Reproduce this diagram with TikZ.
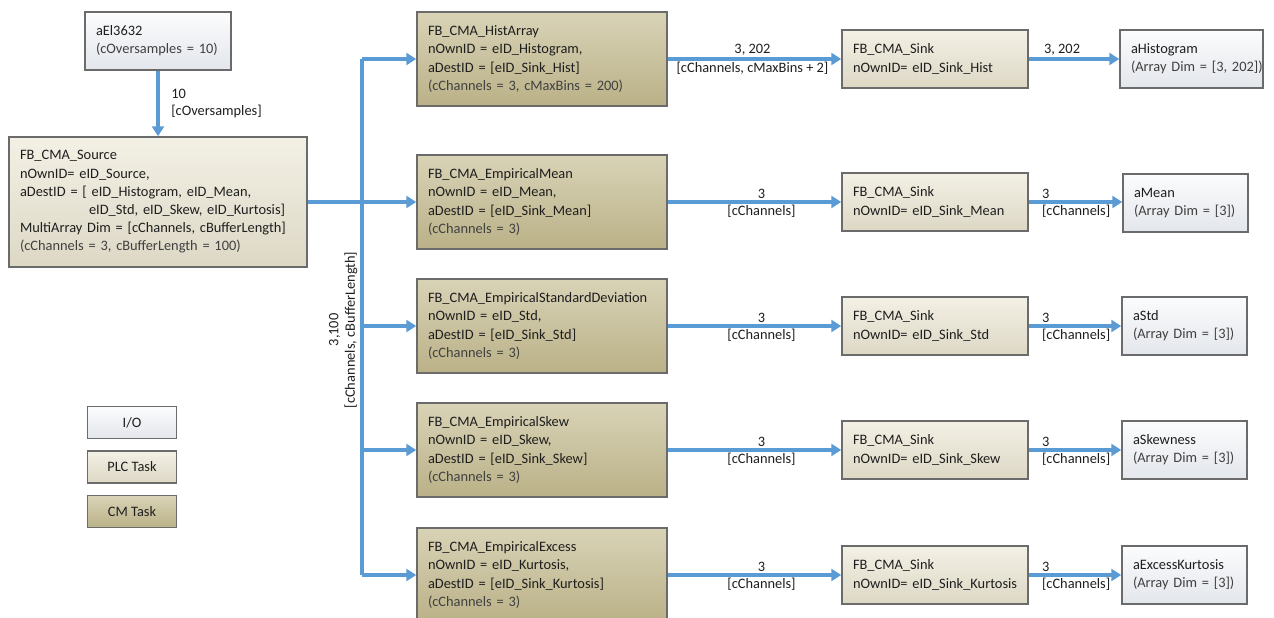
\documentclass[tikz,border=0pt]{standalone}
\usepackage{fontspec}
\setmainfont{Carlito}
\usetikzlibrary{arrows.meta}
\definecolor{txt}{HTML}{1E1E1E}
\definecolor{txtl}{HTML}{404040}
\definecolor{edge}{HTML}{6B6B6B}
\definecolor{flow}{HTML}{5B9BD5}
\definecolor{iotop}{HTML}{FBFCFD}
\definecolor{iobot}{HTML}{E3E6EB}
\definecolor{plctop}{HTML}{F3F0E5}
\definecolor{plcbot}{HTML}{DDD8C5}
\definecolor{cmtop}{HTML}{D9D3B7}
\definecolor{cmbot}{HTML}{BAB187}
\newcommand{\lt}[1]{\textcolor{txtl}{#1}}
\begin{document}
\begin{tikzpicture}[x=1pt,y=-1pt,
  font=\fontsize{14.4}{18.2}\selectfont, text=txt,
  box/.style={draw=edge, line width=1.5pt, inner xsep=11pt, inner ysep=0pt, align=left},
  iobox/.style={box, top color=iotop, bottom color=iobot},
  plcbox/.style={box, top color=plctop, bottom color=plcbot},
  cmbox/.style={box, top color=cmtop, bottom color=cmbot},
  cmsize/.style={minimum width=250pt, minimum height=94pt, text width=228pt},
  sinksize/.style={minimum width=186pt, minimum height=58pt, text width=164pt},
  outsize/.style={minimum width=125pt, minimum height=58pt, text width=103pt},
  legsize/.style={minimum width=89pt, minimum height=32pt, inner xsep=0pt, align=center},
  flowline/.style={draw=flow, line width=3.5pt},
  arr/.style={flowline, -{Triangle[length=10pt, width=12pt]}},
  lab/.style={inner sep=1.5pt, font=\fontsize{14.4}{16.5}\selectfont},
]
\useasboundingbox (0,0) rectangle (1274,618);
\clip (0,0) rectangle (1274,618);

% I/O source
\node[iobox, minimum width=146pt, minimum height=58pt, text width=124pt] (io) at (158,41)
  {aEl3632\\\lt{(cOversamples = 10)}};
% PLC source
\node[plcbox, minimum width=298pt, minimum height=130pt, text width=276pt] (src) at (158,202)
  {FB\_CMA\_Source\\
   nOwnID= eID\_Source,\\
   aDestID = [ eID\_Histogram, eID\_Mean,\\
   \hspace*{69pt}eID\_Std, eID\_Skew, eID\_Kurtosis]\\
   MultiArray Dim = [cChannels, cBufferLength]\\
   \lt{(cChannels = 3, cBufferLength = 100)}};

% CM task boxes
\node[cmbox, cmsize] (hist) at (542,59)
  {FB\_CMA\_HistArray\\nOwnID = eID\_Histogram,\\aDestID = [eID\_Sink\_Hist]\\\lt{(cChannels = 3, cMaxBins = 200)}};
\node[cmbox, cmsize] (mean) at (542,202)
  {FB\_CMA\_EmpiricalMean\\nOwnID = eID\_Mean,\\aDestID = [eID\_Sink\_Mean]\\\lt{(cChannels = 3)}};
\node[cmbox, cmsize] (std) at (542,326)
  {FB\_CMA\_EmpiricalStandardDeviation\\nOwnID = eID\_Std,\\aDestID = [eID\_Sink\_Std]\\\lt{(cChannels = 3)}};
\node[cmbox, cmsize] (skew) at (542,450)
  {FB\_CMA\_EmpiricalSkew\\nOwnID = eID\_Skew,\\aDestID = [eID\_Sink\_Skew]\\\lt{(cChannels = 3)}};
\node[cmbox, cmsize] (exc) at (542,575)
  {FB\_CMA\_EmpiricalExcess\\nOwnID = eID\_Kurtosis,\\aDestID = [eID\_Sink\_Kurtosis]\\\lt{(cChannels = 3)}};

% sinks
\node[plcbox, sinksize] (s1) at (935,59) {FB\_CMA\_Sink\\nOwnID=~eID\_Sink\_Hist};
\node[plcbox, sinksize] (s2) at (935,202) {FB\_CMA\_Sink\\nOwnID=~eID\_Sink\_Mean};
\node[plcbox, sinksize] (s3) at (935,326) {FB\_CMA\_Sink\\nOwnID=~eID\_Sink\_Std};
\node[plcbox, sinksize] (s4) at (935,450) {FB\_CMA\_Sink\\nOwnID=~eID\_Sink\_Skew};
\node[plcbox, sinksize] (s5) at (935,575) {FB\_CMA\_Sink\\nOwnID=~eID\_Sink\_Kurtosis};

% outputs
\node[iobox, minimum width=143pt, minimum height=58pt, text width=121pt] (o1) at (1191.5,59) {aHistogram\\\lt{(Array~Dim~=~[3,~202])}};
\node[iobox, outsize] (o2) at (1185.5,203) {aMean\\\lt{(Array~Dim~=~[3])}};
\node[iobox, outsize] (o3) at (1184.5,326) {aStd\\\lt{(Array~Dim~=~[3])}};
\node[iobox, outsize] (o4) at (1184.5,450) {aSkewness\\\lt{(Array~Dim~=~[3])}};
\node[iobox, outsize] (o5) at (1184.5,575) {aExcessKurtosis\\\lt{(Array~Dim~=~[3])}};

% legend
\node[iobox, legsize] (lio) at (132,422.5) {I/O};
\node[plcbox, legsize] (lplc) at (132,467) {PLC Task};
\node[cmbox, legsize] (lcm) at (132,511.5) {CM Task};

% input arrow
\draw[arr] (io) -- (src) node[midway, right, xshift=10pt, inner sep=0pt, align=left, lab] {10\\{[cOversamples]}};

% bus
\coordinate (btop) at (362,59);
\coordinate (bbot) at (362,575);
\draw[flowline] (src.east) -- (src.east -| btop);
\draw[flowline] (btop) -- node[pos=0.525, anchor=south, rotate=90, lab, align=center, inner sep=3pt] {3,100\\{[cChannels, cBufferLength]}} (bbot);
\draw[arr] (btop) -- (hist.west);
\draw[arr] (btop |- mean.west) -- (mean.west);
\draw[arr] (btop |- std.west) -- (std.west);
\draw[arr] (btop |- skew.west) -- (skew.west);
\draw[arr] (bbot) -- (exc.west);

% CM -> sink
\draw[arr] (hist) -- node[above, lab, xshift=-2pt] {3, 202} node[below, lab, xshift=-2pt] {[cChannels, cMaxBins + 2]} (s1);
\draw[arr] (mean) -- node[above, lab, xshift=7pt] {3} node[below, lab, xshift=7pt] {[cChannels]} (s2);
\draw[arr] (std) -- node[above, lab, xshift=7pt] {3} node[below, lab, xshift=7pt] {[cChannels]} (s3);
\draw[arr] (skew) -- node[above, lab, xshift=7pt] {3} node[below, lab, xshift=7pt] {[cChannels]} (s4);
\draw[arr] (exc) -- node[above, lab, xshift=7pt] {3} node[below, lab, xshift=7pt] {[cChannels]} (s5);

% sink -> output
\draw[arr] (s1) -- node[pos=0, anchor=south west, lab, xshift=12pt] {3, 202} (o1);
\draw[arr] (s2.east) -- node[pos=0, anchor=south west, lab, xshift=10pt] {3} node[pos=0, anchor=north west, lab, xshift=10pt] {[cChannels]} (s2.east -| o2.west);
\draw[arr] (s3) -- node[pos=0, anchor=south west, lab, xshift=10pt] {3} node[pos=0, anchor=north west, lab, xshift=10pt] {[cChannels]} (o3);
\draw[arr] (s4) -- node[pos=0, anchor=south west, lab, xshift=10pt] {3} node[pos=0, anchor=north west, lab, xshift=10pt] {[cChannels]} (o4);
\draw[arr] (s5) -- node[pos=0, anchor=south west, lab, xshift=10pt] {3} node[pos=0, anchor=north west, lab, xshift=10pt] {[cChannels]} (o5);
\end{tikzpicture}
\end{document}
